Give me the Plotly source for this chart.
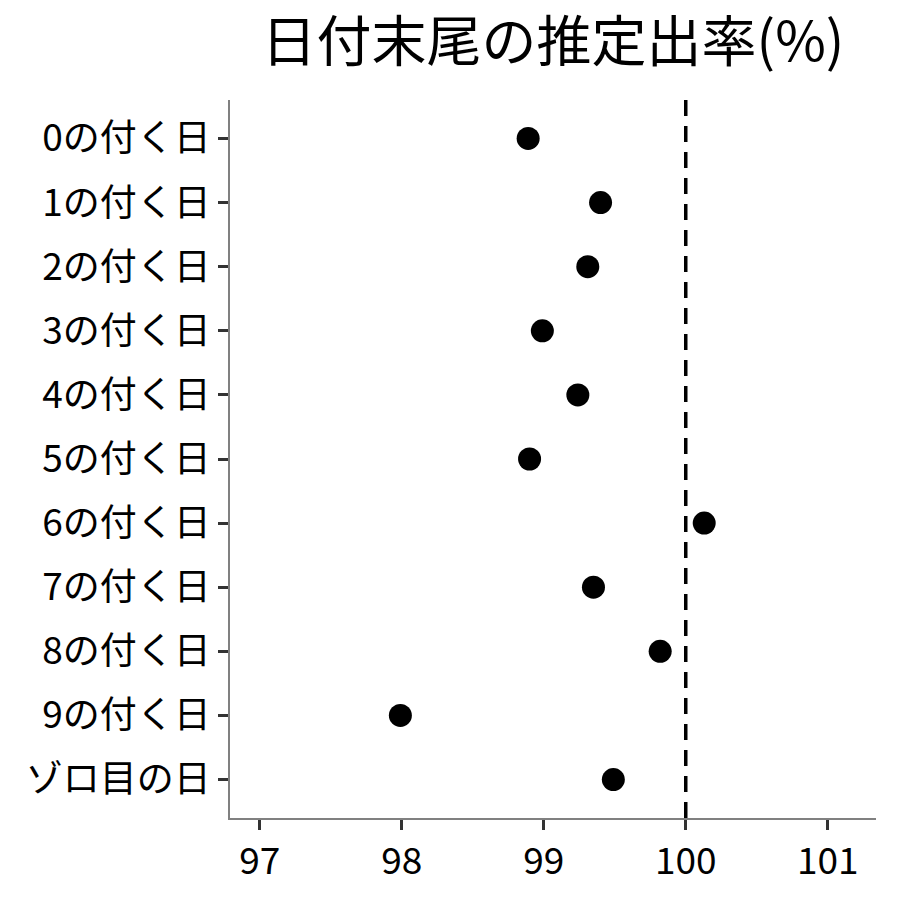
import plotly.graph_objects as go

categories = ["0の付く日", "1の付く日", "2の付く日", "3の付く日", "4の付く日",
              "5の付く日", "6の付く日", "7の付く日", "8の付く日", "9の付く日", "ゾロ目の日"]
rates = [98.89, 99.40, 99.31, 98.99, 99.24, 98.90, 100.13, 99.35, 99.82, 97.99, 99.49]
reference_line = 100
x_ticks = [97, 98, 99, 100, 101]

font = "Noto Sans CJK JP"

fig = go.Figure()
fig.add_trace(go.Scatter(
    x=rates, y=categories, mode="markers",
    marker=dict(size=23, color="black"),
    showlegend=False,
))
fig.add_vline(x=reference_line, line=dict(color="black", width=3.5, dash="16px,10px"))

fig.update_layout(
    width=900, height=900,
    paper_bgcolor="white", plot_bgcolor="white",
    margin=dict(l=222, r=32, t=92, b=90),
    title=dict(text="日付末尾の推定出率(%)", x=0.5, xref="paper", xanchor="center",
               y=0.962, yanchor="middle",
               font=dict(family=font, size=55, color="black")),
    font=dict(family=font, color="black"),
)
fig.update_xaxes(
    range=[96.79, 101.34], tickvals=x_ticks,
    showline=True, linecolor="#808080", linewidth=1.5,
    ticks="outside", ticklen=10, tickwidth=3, tickcolor="#333333",
    showgrid=False, zeroline=False,
    tickfont=dict(family=font, size=37, color="black"),
)
fig.update_yaxes(
    type="category", categoryorder="array", categoryarray=categories,
    range=[10.6, -0.6],
    showline=True, linecolor="#808080", linewidth=1.5,
    ticks="outside", ticklen=10, tickwidth=3, tickcolor="#333333",
    showgrid=False, zeroline=False,
    tickfont=dict(family=font, size=37, color="black"),
)

fig.write_html("out.html")
